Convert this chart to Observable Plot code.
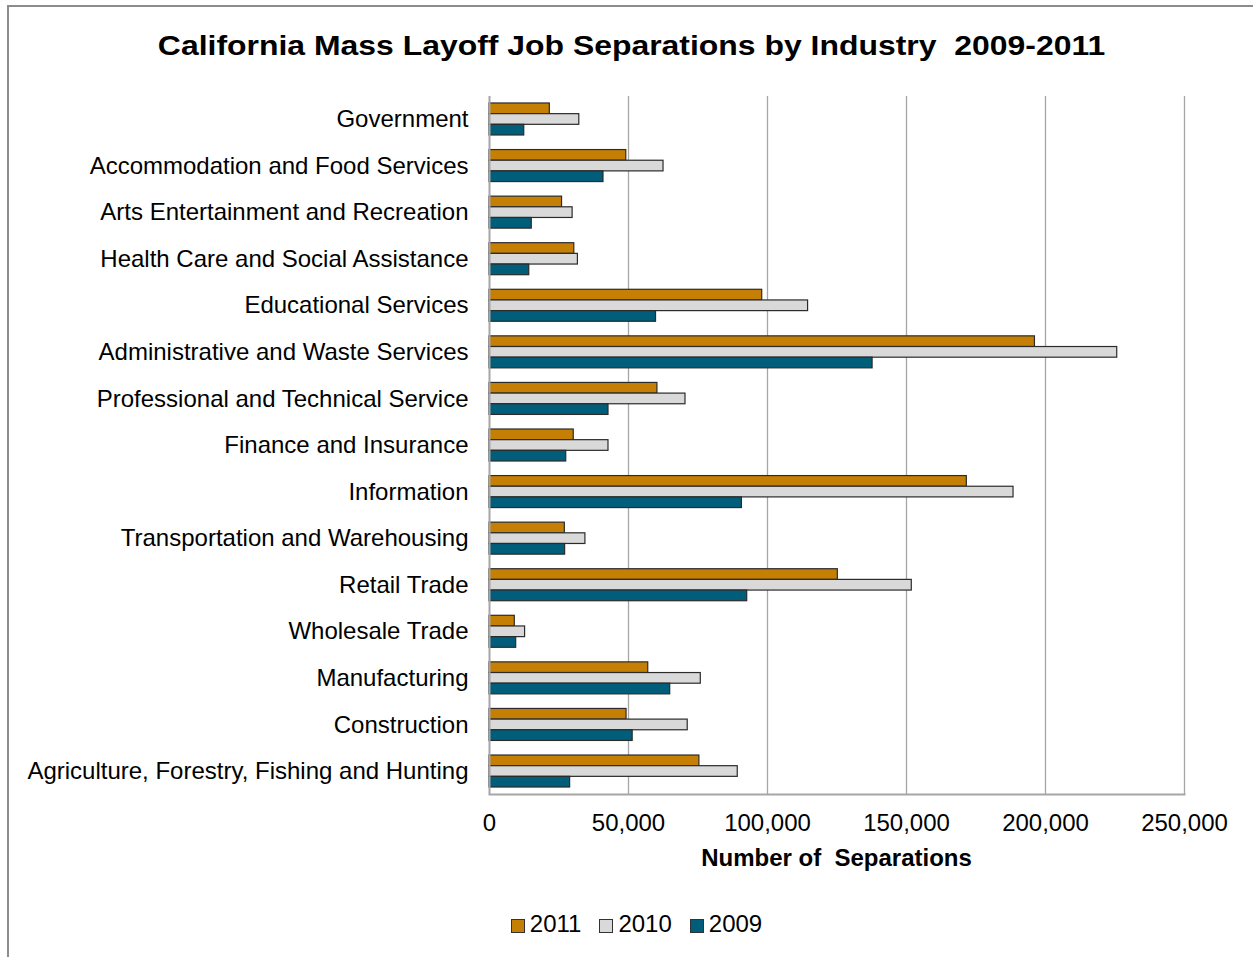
<!DOCTYPE html>
<html><head><meta charset="utf-8">
<script src="https://cdn.jsdelivr.net/npm/d3@7"></script>
<script src="https://cdn.jsdelivr.net/npm/@observablehq/plot@0.6"></script>
<style>
html,body{margin:0;padding:0;background:#fff;overflow:hidden;width:1253px;height:957px;font-family:"Liberation Sans",Arial,sans-serif;color:#000;}
#frame{position:absolute;left:7px;top:5px;width:1300px;height:1000px;border:2px solid #8c8c8c;box-sizing:border-box;}
#title{position:absolute;left:0;width:1263px;top:30px;text-align:center;font-weight:bold;font-size:28px;white-space:pre;transform:scaleX(1.14);transform-origin:631.5px 0;}
#chart{position:absolute;left:0;top:80px;}
#xlabel{position:absolute;left:0;width:1673px;top:844px;text-align:center;font-weight:bold;font-size:24px;white-space:pre;}
#legend{position:absolute;left:0;width:1273px;top:910px;display:flex;justify-content:center;font-size:24px;}
.item{display:flex;align-items:center;margin:0 9px;}
.sw{width:12px;height:12px;border:1px solid #333;margin-right:5px;margin-top:3px;}
</style></head>
<body>
<div id="frame"></div>
<div id="title">California Mass Layoff Job Separations by Industry  2009-2011</div>
<div id="chart"></div>
<div id="xlabel">Number of  Separations</div>
<div id="legend"></div>
<script>
const categories = [
  "Government",
  "Accommodation and Food Services",
  "Arts Entertainment and Recreation",
  "Health Care and Social Assistance",
  "Educational Services",
  "Administrative and Waste Services",
  "Professional and Technical Service",
  "Finance and Insurance",
  "Information",
  "Transportation and Warehousing",
  "Retail Trade",
  "Wholesale Trade",
  "Manufacturing",
  "Construction",
  "Agriculture, Forestry, Fishing and Hunting"
];
const years = ["2011", "2010", "2009"];
const sep2011 = [21700, 49200, 26100, 30500, 98100, 196200, 60400, 30300, 171700, 27100, 125300, 9100, 57100, 49300, 75500];
const sep2010 = [32300, 62600, 29900, 31800, 114600, 225800, 70500, 42800, 188500, 34500, 151900, 12800, 76000, 71300, 89300];
const sep2009 = [12500, 41000, 15200, 14300, 59900, 137800, 42800, 27600, 90800, 27200, 92700, 9600, 65000, 51500, 29000];
const xTicks = [0, 50000, 100000, 150000, 200000, 250000];
const colors = ["#c57f04", "#d9d9d9", "#005e7a"];

const series = [sep2011, sep2010, sep2009];
const data = years.flatMap((yr, j) => categories.map((c, i) => ({category: c, year: yr, value: series[j][i]})));

const plotH = 698, pi = 0.313, po = 0.15;
const step = plotH / (categories.length - pi + 2 * po);
const t = step * (1 - pi) / 3;

const barOpts = (j) => ({
  x: "value", y: "category", fill: colors[j], stroke: "#2b2b2b", strokeWidth: 1.2,
  insetTop: j * t, insetBottom: (2 - j) * t
});

const chart = Plot.plot({
  width: 1253, height: 760,
  marginLeft: 489, marginRight: 69, marginTop: 16, marginBottom: 46,
  style: {fontFamily: "'Liberation Sans', Arial, sans-serif", fontSize: "24px", color: "#000", background: "transparent"},
  x: {domain: [0, 250000]},
  y: {domain: categories, paddingInner: pi, paddingOuter: po, round: false},
  marks: [
    Plot.gridX(xTicks.slice(1), {stroke: "#a6a6a6", strokeOpacity: 1, strokeWidth: 1.3}),
    ...years.map((yr, j) => Plot.barX(data.filter(d => d.year === yr), barOpts(j))),
    Plot.ruleX([0], {stroke: "#a6a6a6", strokeWidth: 2}),
    Plot.frame({anchor: "bottom", stroke: "#a6a6a6", strokeWidth: 2}),
    Plot.axisX({ticks: xTicks, tickFormat: d3.format(","), tickSize: 0, tickPadding: 19, label: null}),
    Plot.axisY({tickSize: 0, tickPadding: 21, label: null})
  ]
});
document.getElementById("chart").appendChild(chart);

const legend = document.getElementById("legend");
years.forEach((yr, j) => {
  const item = document.createElement("div");
  item.className = "item";
  const sw = document.createElement("div");
  sw.className = "sw";
  sw.style.background = colors[j];
  const lab = document.createElement("span");
  lab.textContent = yr;
  item.appendChild(sw); item.appendChild(lab);
  legend.appendChild(item);
});
</script>
</body></html>
